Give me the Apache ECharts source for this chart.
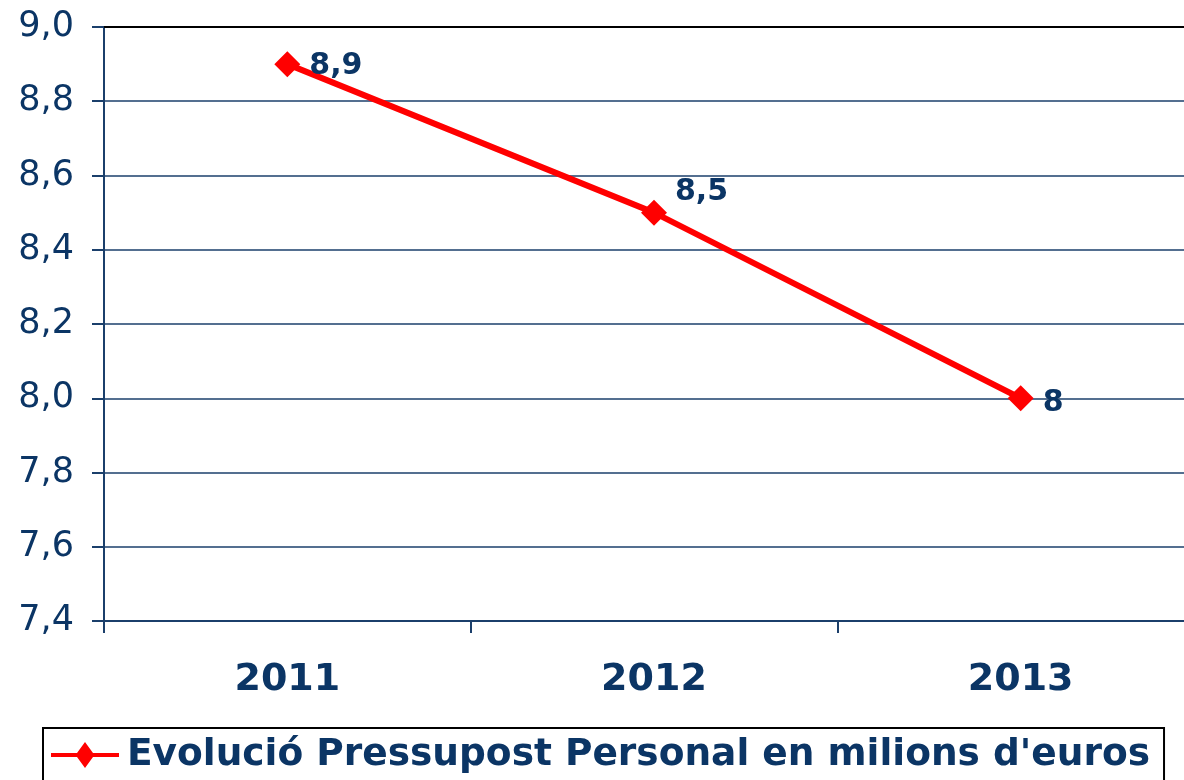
<!DOCTYPE html>
<html>
<head>
<meta charset="utf-8">
<script src="https://cdn.jsdelivr.net/npm/echarts@6/dist/echarts.min.js"></script>
<style>
  html, body { margin: 0; padding: 0; background: #fff; }
  #chart { width: 1184px; height: 780px; }
</style>
</head>
<body>
<div id="chart"></div>
<script>
// data
const years = ['2011', '2012', '2013'];
const pressupost = [8.9, 8.5, 8.0];
const pointLabels = ['8,9', '8,5', '8'];
const seriesName = "Evolució Pressupost Personal en milions d'euros";

const navy = '#0b3565';
const gridColor = '#1b3f6b';

var chart = echarts.init(document.getElementById('chart'));

// per-point label tweaks
let labelOffsets = [[-1, 2], [-2, -20], [-1, 5]];
let points = pressupost.map(function (v, i) {
    return {
        value: v,
        label: {
            formatter: pointLabels[i],
            offset: labelOffsets[i]
        }
    };
});

option = {
    animation: false,
    textStyle: { fontFamily: 'DejaVu Sans' },
    grid: {
        left: 104,
        top: 27,
        width: 1100,
        height: 594,
        outerBoundsMode: 'none'
    },
    legend: {
        left: 43,
        top: 728,
        padding: [8, 14, 8, 8],
        borderColor: '#000',
        borderWidth: 2,
        itemWidth: 68,
        itemHeight: 26,
        icon: 'path://M0,11 L26,11 L34,0 L42,11 L68,11 L68,15 L42,15 L34,26 L26,15 L0,15 Z',
        itemStyle: { color: '#ff0000', borderWidth: 0 },
        textStyle: {
            color: navy,
            fontSize: 37.5,
            fontWeight: 'bold',
            fontFamily: 'DejaVu Sans',
            padding: [0, 0, 0, 3]
        },
        data: [seriesName]
    },
    xAxis: [{
        type: 'category',
        data: years,
        boundaryGap: true,
        axisLine: { lineStyle: { color: gridColor, width: 2 } },
        axisTick: { show: true, interval: 0, length: 12, lineStyle: { color: gridColor, width: 2 } },
        axisLabel: {
            color: navy,
            fontSize: 38,
            fontWeight: 'bold',
            margin: 40
        }
    }, {
        type: 'category',
        data: years,
        position: 'top',
        axisLine: { lineStyle: { color: '#000', width: 2 } },
        axisTick: { show: false },
        axisLabel: { show: false }
    }],
    yAxis: {
        type: 'value',
        min: 7.4,
        max: 9.0,
        interval: 0.2,
        axisLine: { show: true, lineStyle: { color: gridColor, width: 2 } },
        axisTick: { show: true, length: 12, lineStyle: { color: gridColor, width: 2 } },
        axisLabel: {
            color: navy,
            fontSize: 35,
            margin: 30,
            formatter: function (v) {
                return v.toFixed(1).replace('.', ',');
            }
        },
        splitLine: { lineStyle: { color: gridColor, width: 1.5 } }
    },
    series: [{
        name: seriesName,
        type: 'line',
        data: points,
        symbol: 'diamond',
        symbolSize: 26,
        itemStyle: { color: '#ff0000' },
        lineStyle: { color: '#ff0000', width: 6 },
        label: {
            show: true,
            position: 'right',
            distance: 10,
            color: navy,
            fontSize: 30,
            fontWeight: 'bold'
        }
    }]
};

chart.setOption(option);
</script>
</body>
</html>
